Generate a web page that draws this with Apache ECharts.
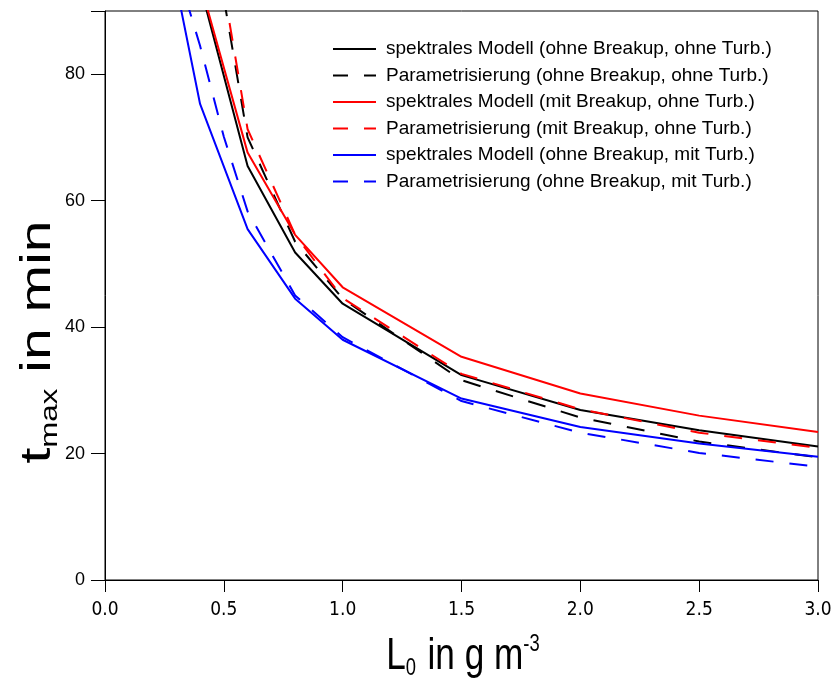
<!DOCTYPE html>
<html>
<head>
<meta charset="utf-8">
<script src="https://cdn.jsdelivr.net/npm/echarts@6/dist/echarts.min.js"></script>
<style>html,body{margin:0;padding:0;background:#fff}#c{width:835px;height:683px}</style>
</head>
<body>
<div id="c"></div>
<script>
// Data
var xBlackSolid = [0.4, 0.6, 0.8, 1.0, 1.5, 2.0, 2.5, 3.0];
var yBlackSolid = [94.0, 65.5, 51.8, 43.7, 32.4, 26.9, 23.7, 21.1];
var xBlackDash  = [0.5, 0.6, 0.8, 1.0, 1.5, 2.0, 2.5, 3.0];
var yBlackDash  = [92.0, 70.0, 53.5, 44.5, 31.6, 25.7, 21.9, 19.4];
var xRedSolid   = [0.4, 0.6, 0.8, 1.0, 1.5, 2.0, 2.5, 3.0];
var yRedSolid   = [94.5, 67.6, 54.6, 46.3, 35.3, 29.5, 26.0, 23.4];
var xRedDash    = [0.5, 0.6, 0.8, 1.0, 1.5, 2.0, 2.5, 3.0];
var yRedDash    = [93.4, 71.3, 54.6, 44.6, 32.6, 27.0, 23.3, 20.9];
var xBlueSolid  = [0.3, 0.4, 0.6, 0.8, 1.0, 1.5, 2.0, 2.5, 3.0];
var yBlueSolid  = [94.0, 75.3, 55.5, 44.5, 38.0, 28.7, 24.2, 21.6, 19.5];
var xBlueDash   = [0.3, 0.4, 0.5, 0.6, 0.8, 1.0, 1.5, 2.0, 2.5, 3.0];
var yBlueDash   = [97.0, 84.5, 70.1, 58.3, 45.0, 38.4, 28.3, 23.3, 20.1, 17.9];
var seriesNames = [
  'spektrales Modell (ohne Breakup, ohne Turb.)',
  'Parametrisierung (ohne Breakup, ohne Turb.)',
  'spektrales Modell (mit Breakup, ohne Turb.)',
  'Parametrisierung (mit Breakup, ohne Turb.)',
  'spektrales Modell (ohne Breakup, mit Turb.)',
  'Parametrisierung (ohne Breakup, mit Turb.)'
];
var xTicks = [0, 0.5, 1.0, 1.5, 2.0, 2.5, 3.0];
var yTicks = [0, 20, 40, 60, 80];
var xTitle = ['L', '0', ' in g m', '-3'];
var yTitle = ['t', 'max', ' in min'];

function pairs(xs, ys) { return xs.map(function (x, i) { return [x, ys[i]]; }); }

var defs = [
  [xBlackSolid, yBlackSolid, '#000000', 'solid'],
  [xBlackDash,  yBlackDash,  '#000000', [18, 16]],
  [xRedSolid,   yRedSolid,   '#ff0000', 'solid'],
  [xRedDash,    yRedDash,    '#ff0000', [18, 16]],
  [xBlueSolid,  yBlueSolid,  '#0000ff', 'solid'],
  [xBlueDash,   yBlueDash,   '#0000ff', [18, 16]]
];

var series = defs.map(function (d, i) {
  return {
    name: seriesNames[i],
    type: 'line',
    data: pairs(d[0], d[1]),
    symbol: 'none',
    showSymbol: false,
    clip: true,
    animation: false,
    lineStyle: { color: d[2], width: 2, type: d[3] },
    itemStyle: { color: d[2] }
  };
});

var legendData = seriesNames.map(function (n, i) {
  var dashed = (i % 2 === 1);
  return {
    name: n,
    itemStyle: { opacity: 0 },
    lineStyle: { color: defs[i][2], width: 2, type: dashed ? [15, 16] : 'solid', opacity: 1 }
  };
});

var font = 'Liberation Sans, Arial, sans-serif';

var chart = echarts.init(document.getElementById('c'), null, { renderer: 'canvas' });
chart.setOption({
  animation: false,
  backgroundColor: '#ffffff',
  grid: { left: 105, right: 17, top: 11, bottom: 103, show: true, borderColor: '#000', borderWidth: 1, backgroundColor: 'transparent' },
  legend: {
    orient: 'vertical',
    left: 327,
    top: 34,
    itemWidth: 43,
    itemHeight: 14,
    itemGap: 6.5,
    data: legendData,
    textStyle: { fontFamily: font, fontSize: 19, color: '#000', lineHeight: 20, padding: [0, 0, 0, 5] }
  },
  xAxis: {
    type: 'value',
    min: 0, max: 3, interval: 0.5,
    axisLine: { show: true, onZero: false, lineStyle: { color: '#000', width: 1 } },
    axisTick: { show: true, inside: false, length: 12, lineStyle: { color: '#000', width: 1 } },
    axisLabel: {
      margin: 21,
      fontFamily: 'DejaVu Sans Condensed, Liberation Sans, Arial',
      fontSize: 19, color: '#000',
      formatter: function (v) { return v.toFixed(1); }
    },
    splitLine: { show: false }
  },
  yAxis: {
    type: 'value',
    min: 0, max: 90, interval: 20,
    axisLine: { show: true, onZero: false, lineStyle: { color: '#000', width: 1 } },
    axisTick: { show: true, inside: false, length: 14, lineStyle: { color: '#000', width: 1 } },
    axisLabel: {
      margin: 20,
      fontFamily: font,
      fontSize: 18, color: '#000',
      formatter: function (v) { return yTicks.indexOf(v) >= 0 ? String(v) : ''; }
    },
    splitLine: { show: false }
  },
  graphic: [{
    type: 'text',
    x: 463, y: 657,
    scaleX: 0.8,
    style: {
      text: '{a|' + xTitle[0] + '}{sub|' + xTitle[1] + '}{a|' + xTitle[2] + '}{sup|' + xTitle[3] + '}',
      textAlign: 'center',
      textVerticalAlign: 'middle',
      rich: {
        a: { fontFamily: font, fontSize: 44, fill: '#000', lineHeight: 52, verticalAlign: 'middle' },
        sub: { fontFamily: font, fontSize: 23, fill: '#000', lineHeight: 52, verticalAlign: 'bottom', padding: [0, 2, 3, 0] },
        sup: { fontFamily: font, fontSize: 23, fill: '#000', lineHeight: 52, verticalAlign: 'top', padding: [2, 0, 0, 0] }
      }
    }
  }, {
    type: 'text',
    x: 38, y: 342,
    rotation: Math.PI / 2,
    scaleX: 1.36,
    style: {
      text: '{a|' + yTitle[0] + '}{sub|' + yTitle[1] + '}{a|' + yTitle[2] + '}',
      textAlign: 'center',
      textVerticalAlign: 'middle',
      rich: {
        a: { fontFamily: font, fontSize: 42, fill: '#000', lineHeight: 52, verticalAlign: 'middle' },
        sub: { fontFamily: font, fontSize: 23, fill: '#000', lineHeight: 52, verticalAlign: 'bottom', padding: [0, 0, 2, 0] }
      }
    }
  }],
  series: series
});
</script>
</body>
</html>
